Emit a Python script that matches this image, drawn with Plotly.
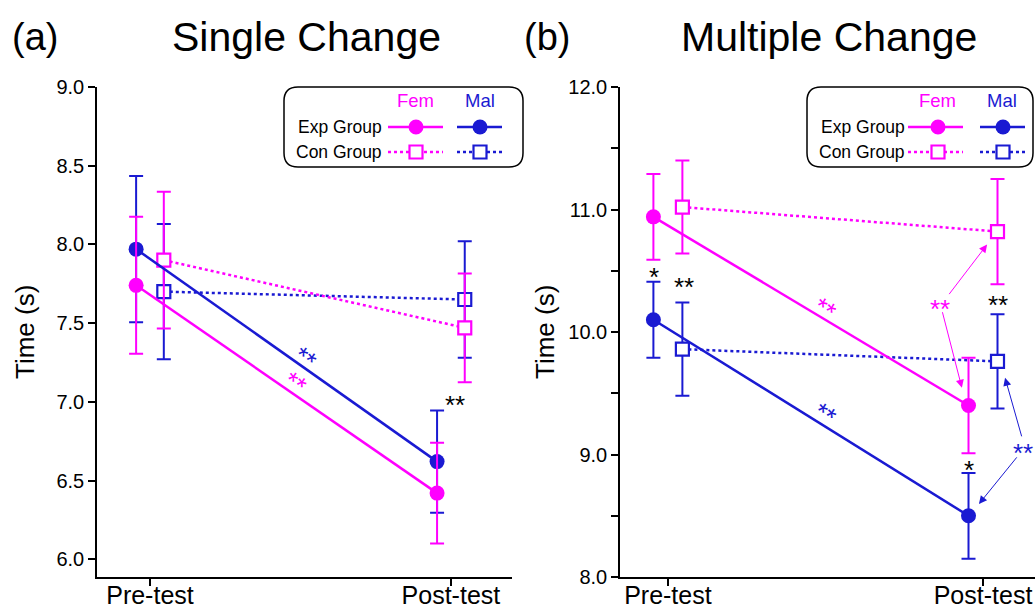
import plotly.graph_objects as go

# ---------------- data ----------------
categories = ["Pre-test", "Post-test"]

# (a) Single Change
a_fem_exp = [7.74, 6.42]
a_fem_exp_err = [0.435, 0.32]
a_mal_exp = [7.97, 6.62]
a_mal_exp_err = [0.465, 0.325]
a_fem_con = [7.90, 7.47]
a_fem_con_err = [0.435, 0.345]
a_mal_con = [7.70, 7.65]
a_mal_con_err = [0.43, 0.37]

# (b) Multiple Change
b_fem_exp = [10.94, 9.40]
b_fem_exp_err = [0.35, 0.39]
b_mal_exp = [10.10, 8.50]
b_mal_exp_err = [0.31, 0.35]
b_fem_con = [11.02, 10.82]
b_fem_con_err = [0.38, 0.43]
b_mal_con = [9.86, 9.76]
b_mal_con_err = [0.38, 0.385]

a_ticks = [6.0, 6.5, 7.0, 7.5, 8.0, 8.5, 9.0]
b_ticks = [8.0, 9.0, 10.0, 11.0, 12.0]

# ---------------- style ----------------
PINK = "#FF00FF"
BLUE = "#1a1ad2"
W, H = 1035, 610
FONT = "Liberation Sans, Arial, sans-serif"
EXP_OFF = -0.046
CON_OFF = 0.046
STAR = 26

fig = go.Figure()


def add_series(xa, ya, vals, errs, color, exp):
    off = EXP_OFF if exp else CON_OFF
    xs = [i + off for i in range(len(categories))]
    if exp:
        marker = dict(symbol="circle", size=15, color=color, line=dict(width=0))
        line = dict(color=color, width=2.5)
    else:
        marker = dict(symbol="square", size=13, color="white", line=dict(color=color, width=2.2))
        line = dict(color=color, width=2.5, dash="dot")
    fig.add_trace(go.Scatter(
        x=xs, y=vals, mode="lines+markers", xaxis=xa, yaxis=ya,
        line=line, marker=marker, showlegend=False, hoverinfo="skip",
        error_y=dict(type="data", array=errs, visible=True, color=color,
                     thickness=2, width=7),
    ))


# panel a
add_series("x", "y", a_mal_con, a_mal_con_err, BLUE, False)
add_series("x", "y", a_fem_con, a_fem_con_err, PINK, False)
add_series("x", "y", a_mal_exp, a_mal_exp_err, BLUE, True)
add_series("x", "y", a_fem_exp, a_fem_exp_err, PINK, True)
# panel b
add_series("x2", "y2", b_mal_con, b_mal_con_err, BLUE, False)
add_series("x2", "y2", b_fem_con, b_fem_con_err, PINK, False)
add_series("x2", "y2", b_mal_exp, b_mal_exp_err, BLUE, True)
add_series("x2", "y2", b_fem_exp, b_fem_exp_err, PINK, True)

axis_common = dict(showline=True, linecolor="black", linewidth=1.5, ticks="outside",
                   ticklen=7, tickwidth=1.5, tickcolor="black", showgrid=False,
                   zeroline=False, mirror=False, automargin=False,
                   ticklabeloverflow="allow")

fig.update_layout(
    template="none",
    width=W, height=H, autosize=False,
    margin=dict(l=0, r=0, t=0, b=0, pad=0),
    paper_bgcolor="white", plot_bgcolor="white",
    font=dict(family=FONT, color="black"),
    xaxis=dict(domain=[97 / W, 512 / W], range=[-0.176, 1.203], tickvals=[0, 1],
               ticktext=categories, tickfont=dict(size=25), ticklabelstandoff=-12,
               anchor="y", **axis_common),
    yaxis=dict(domain=[1 - 577 / H, 1 - 87 / H], range=[5.887, 9.0], tickvals=a_ticks,
               tickformat=".1f", tickfont=dict(size=20), anchor="x", **axis_common),
    xaxis2=dict(domain=[620 / W, 1.0], range=[-0.152, 1.165], tickvals=[0, 1],
                ticktext=categories, tickfont=dict(size=25), ticklabelstandoff=-12,
                anchor="y2", **axis_common),
    yaxis2=dict(domain=[1 - 577 / H, 1 - 87 / H], range=[8.0, 12.0], tickvals=b_ticks,
                tickformat=".1f", tickfont=dict(size=20), anchor="x2",
                minor=dict(dtick=0.5, ticks="outside", ticklen=7, tickwidth=1.5,
                           tickcolor="black", showgrid=False),
                **axis_common),
)


def px(x):
    return x / W


def py(y):
    return 1 - y / H


def txt(text, x, y, xref, yref, size, color, angle=0, xanchor="center", yshift=0):
    return dict(text=text, x=x, y=y, xref=xref, yref=yref, showarrow=False,
                textangle=angle, xanchor=xanchor, yanchor="middle", yshift=yshift,
                font=dict(size=size, color=color))


ann = []
# titles
for t, cx, size in [("(a)", 35, 38), ("Single Change", 306, 41),
                    ("(b)", 547, 38), ("Multiple Change", 829, 41)]:
    ann.append(txt(t, px(cx), py(37), "paper", "paper", size, "black"))
# y axis titles
for cx in (25, 545):
    ann.append(txt("Time (s)", px(cx), py(332), "paper", "paper", 26, "black", angle=-90))

# significance marks panel a
ann += [
    txt("**", 0.515, 7.277, "x", "y", STAR, BLUE, angle=35),
    txt("**", 0.482, 7.118, "x", "y", STAR, PINK, angle=34),
    txt("**", 1.013, 7.017, "x", "y", STAR, "black", yshift=-6),
]
# significance marks panel b
ann += [
    txt("*", -0.044, 10.50, "x2", "y2", STAR, "black", yshift=-6),
    txt("**", 0.051, 10.42, "x2", "y2", STAR, "black", yshift=-6),
    txt("**", 1.048, 10.27, "x2", "y2", STAR, "black", yshift=-6),
    txt("*", 0.956, 8.92, "x2", "y2", STAR, "black", yshift=-6),
    txt("**", 0.498, 10.19, "x2", "y2", STAR, PINK, angle=31),
    txt("**", 0.498, 9.33, "x2", "y2", STAR, BLUE, angle=32),
    txt("**", 0.863, 10.24, "x2", "y2", STAR, PINK, yshift=-6),
    txt("**", 1.127, 9.062, "x2", "y2", STAR, BLUE, yshift=-6),
]
# arrows panel b
for (tx, ty, hx, hy, col) in [(0.889, 10.297, 1.013, 10.714, PINK),
                              (0.870, 10.174, 0.933, 9.545, PINK),
                              (1.124, 9.136, 1.070, 9.626, BLUE),
                              (1.111, 8.989, 0.987, 8.596, BLUE)]:
    ann.append(dict(text="", x=hx, y=hy, ax=tx, ay=ty, xref="x2", yref="y2",
                    axref="x2", ayref="y2", showarrow=True, arrowhead=2,
                    arrowsize=1.6, arrowwidth=1, arrowcolor=col))

# ---------------- custom legends ----------------
shapes = []


def rounded_box(x0, y0, x1, y1, r):
    rx, ry = r / W, r / H
    X0, X1, Y0, Y1 = px(x0), px(x1), py(y0), py(y1)
    path = (f"M {X0+rx},{Y0} L {X1-rx},{Y0} Q {X1},{Y0} {X1},{Y0-ry} "
            f"L {X1},{Y1+ry} Q {X1},{Y1} {X1-rx},{Y1} L {X0+rx},{Y1} "
            f"Q {X0},{Y1} {X0},{Y1+ry} L {X0},{Y0-ry} Q {X0},{Y0} {X0+rx},{Y0} Z")
    return dict(type="path", path=path, xref="paper", yref="paper",
                line=dict(color="black", width=1.5), fillcolor="white", layer="above")


def legend(box, text_right, fem_x, mal_x, pink_seg, blue_seg):
    shapes.append(rounded_box(*box, 14))
    ann.append(txt("Fem", px(fem_x), py(101), "paper", "paper", 18.5, PINK))
    ann.append(txt("Mal", px(mal_x), py(101), "paper", "paper", 18.5, BLUE))
    for lbl, yy in (("Exp Group", 127), ("Con Group", 152)):
        ann.append(txt(lbl, px(text_right), py(yy), "paper", "paper", 17.5, "black",
                       xanchor="right"))
    for (sx0, sx1, cx), col in ((pink_seg, PINK), (blue_seg, BLUE)):
        shapes.append(dict(type="line", x0=px(sx0), x1=px(sx1), y0=py(127), y1=py(127),
                           xref="paper", yref="paper", line=dict(color=col, width=2.5),
                           layer="above"))
        shapes.append(dict(type="circle", x0=px(cx - 7.5), x1=px(cx + 7.5),
                           y0=py(127 - 7.5), y1=py(127 + 7.5), xref="paper", yref="paper",
                           fillcolor=col, line=dict(color=col, width=0), layer="above"))
        shapes.append(dict(type="line", x0=px(sx0), x1=px(sx1), y0=py(152), y1=py(152),
                           xref="paper", yref="paper",
                           line=dict(color=col, width=2.5, dash="dot"), layer="above"))
        shapes.append(dict(type="rect", x0=px(cx - 6.5), x1=px(cx + 6.5),
                           y0=py(152 - 6.5), y1=py(152 + 6.5), xref="paper", yref="paper",
                           fillcolor="white", line=dict(color=col, width=2.2),
                           layer="above"))


legend((284, 87, 523, 167), 384, 415, 480, (388, 443, 416), (457, 502, 480))
legend((807, 87, 1033, 167), 907, 937, 1002, (908, 963, 938), (980, 1025, 1003))

fig.update_layout(annotations=ann, shapes=shapes)
fig.write_html("out.html", config={"displayModeBar": False},
               post_script="document.body.style.margin='0px';"
                           "document.body.style.overflow='hidden';")
